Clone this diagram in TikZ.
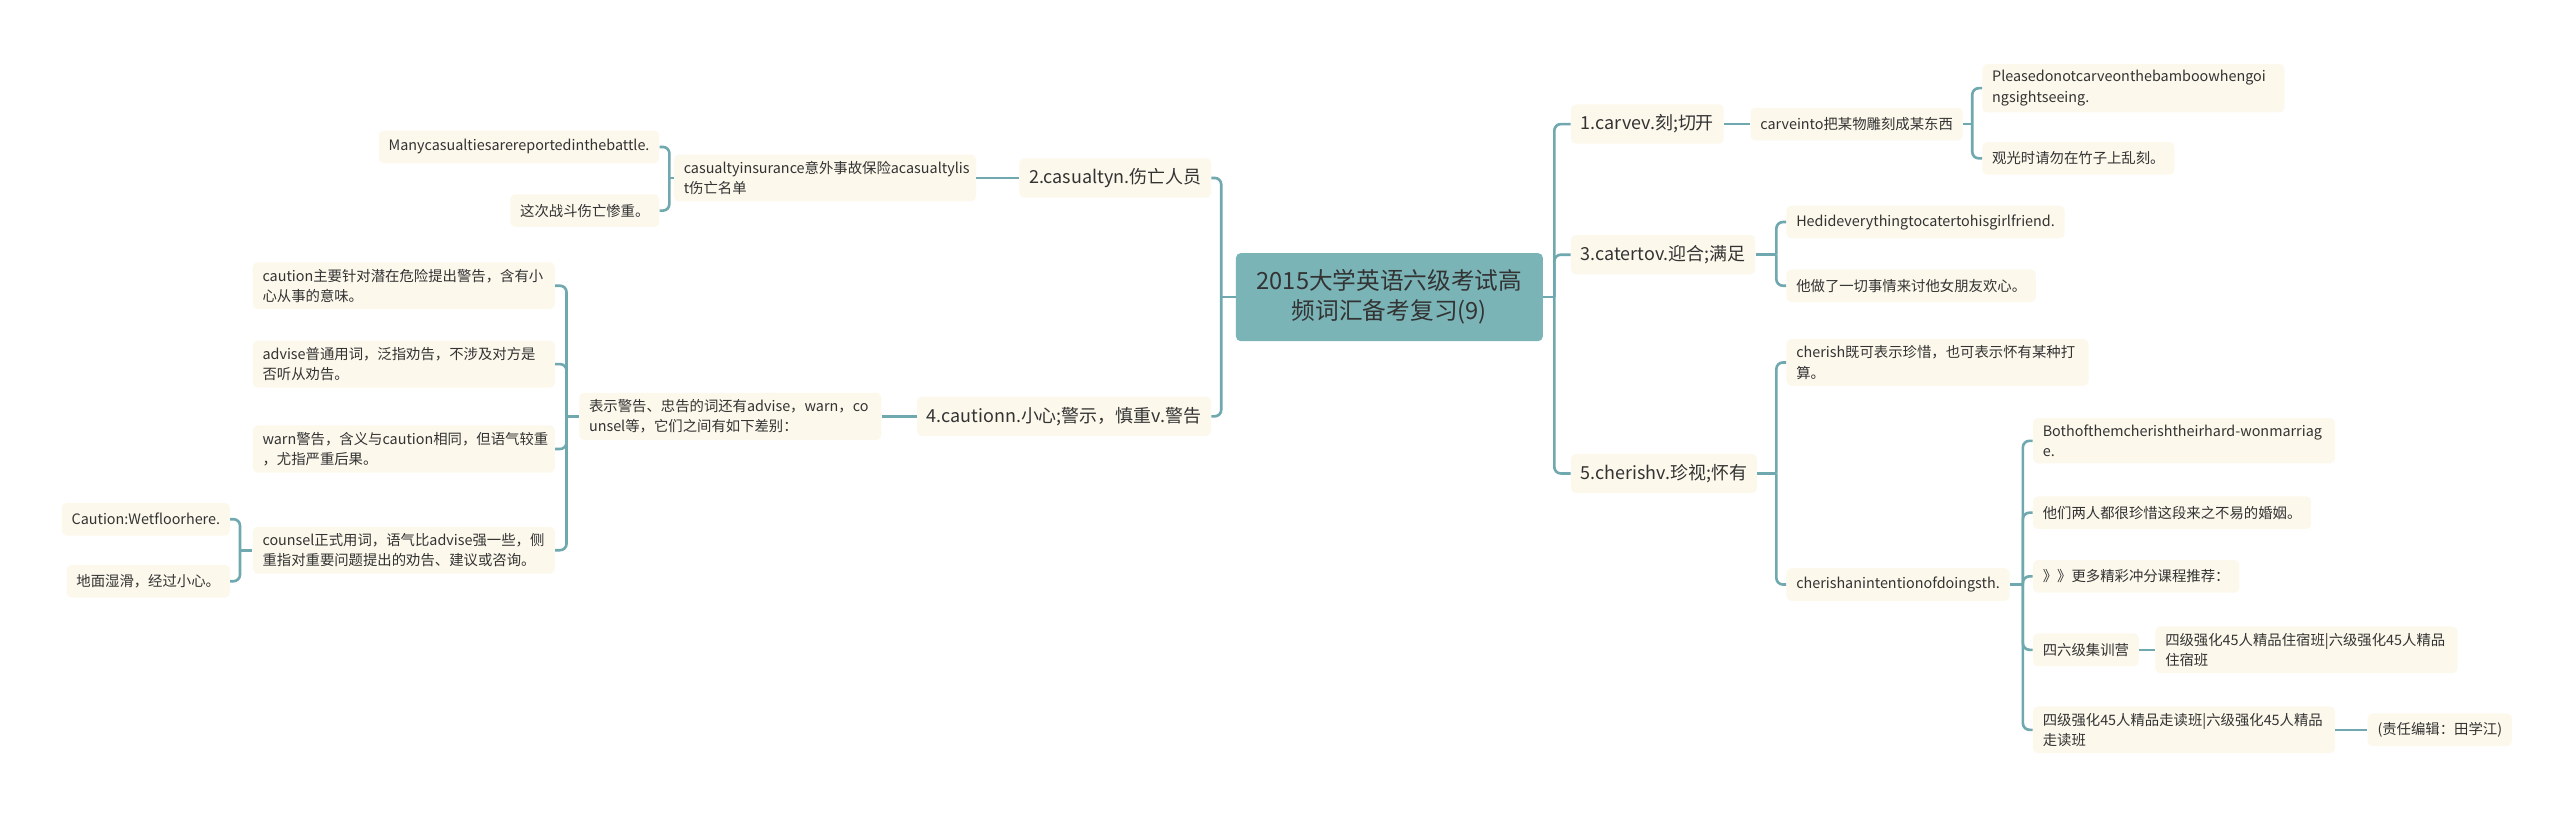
\documentclass[tikz,border=0pt]{standalone}
\usepackage{fontspec}
\setmainfont{Noto Sans CJK SC}
\definecolor{linkteal}{HTML}{6FA8AE}
\definecolor{rootfill}{HTML}{7BB4B7}
\definecolor{boxfill}{HTML}{FCF8EC}
\definecolor{inktext}{HTML}{333333}
\tikzset{
  box_base/.style = {inner xsep=6pt, rounded corners=3pt, text=inktext},
  box_root/.style = {box_base, fill=rootfill, align=center, minimum width=188pt, minimum height=54pt, font=\fontsize{14.5}{18.5}\selectfont},
  box_main/.style = {box_base, fill=boxfill, inner ysep=4pt, minimum height=24pt, font=\fontsize{11}{14}\selectfont},
  box_sub/.style = {box_base, fill=boxfill, inner ysep=4pt, minimum height=20pt, align=left, font=\fontsize{8.8}{12.5}\selectfont},
  box_wrap/.style = {box_sub, text width=173pt},
  link/.style = {draw=linkteal, line width=1.6pt, rounded corners=4pt},
}

\begin{document}
\begin{tikzpicture}[x=1pt, y=-1pt]
  \fill[white] (0,0) rectangle (1568,501);
  \useasboundingbox (0,0) rectangle (1568,501);

  \node[box_root] (root) at (851,182) {2015大学英语六级考试高\\频词汇备考复习(9)};

  \node[box_main, anchor=east] (cas) at (742,109) {2.casualtyn.伤亡人员};
  \node[box_wrap, anchor=east] (casins) at (598,109) {casualtyinsurance意外事故保险acasualtylis\\t伤亡名单};
  \node[box_sub, anchor=east] (casA) at (404,90) {Manycasualtiesarereportedinthebattle.};
  \node[box_sub, anchor=east] (casB) at (404,129) {这次战斗伤亡惨重。};

  \node[box_main, anchor=east] (cau) at (742,255) {4.cautionn.小心;警示，慎重v.警告};
  \node[box_wrap, anchor=east] (caudiff) at (540,255) {表示警告、忠告的词还有advise，warn，co\\unsel等，它们之间有如下差别：};
  \node[box_wrap, anchor=east] (cauA) at (340,175) {caution主要针对潜在危险提出警告，含有小\\心从事的意味。};
  \node[box_wrap, anchor=east] (cauB) at (340,223) {advise普通用词，泛指劝告，不涉及对方是\\否听从劝告。};
  \node[box_wrap, anchor=east] (cauC) at (340,275) {warn警告，含义与caution相同，但语气较重\\，尤指严重后果。};
  \node[box_wrap, anchor=east] (cauD) at (340,337) {counsel正式用词，语气比advise强一些，侧\\重指对重要问题提出的劝告、建议或咨询。};
  \node[box_sub, anchor=east] (cauD1) at (141,318) {Caution:Wetfloorhere.};
  \node[box_sub, anchor=east] (cauD2) at (141,356) {地面湿滑，经过小心。};

  \node[box_main, anchor=west] (carve) at (962,76) {1.carvev.刻;切开};
  \node[box_sub, anchor=west] (carveinto) at (1072,76) {carveinto把某物雕刻成某东西};
  \node[box_wrap, anchor=west] (carveA) at (1214,54) {Pleasedonotcarveonthebamboowhengoi\\ngsightseeing.};
  \node[box_sub, anchor=west] (carveB) at (1214,97) {观光时请勿在竹子上乱刻。};

  \node[box_main, anchor=west] (cater) at (962,156) {3.catertov.迎合;满足};
  \node[box_sub, anchor=west] (caterA) at (1094,136) {Hedideverythingtocatertohisgirlfriend.};
  \node[box_sub, anchor=west] (caterB) at (1094,175) {他做了一切事情来讨他女朋友欢心。};

  \node[box_main, anchor=west] (cherish) at (962,290) {5.cherishv.珍视;怀有};
  \node[box_wrap, anchor=west] (cherA) at (1094,222) {cherish既可表示珍惜，也可表示怀有某种打\\算。};
  \node[box_sub, anchor=west] (cherB) at (1094,358) {cherishanintentionofdoingsth.};
  \node[box_wrap, anchor=west] (cherB1) at (1245,270) {Bothofthemcherishtheirhard-wonmarriag\\e.};
  \node[box_sub, anchor=west] (cherB2) at (1245,314) {他们两人都很珍惜这段来之不易的婚姻。};
  \node[box_sub, anchor=west] (cherB3) at (1245,353) {》》更多精彩冲分课程推荐：};
  \node[box_sub, anchor=west] (cherB4) at (1245,398) {四六级集训营};
  \node[box_wrap, anchor=west] (cherB5) at (1245,447) {四级强化45人精品走读班|六级强化45人精品\\走读班};
  \node[box_wrap, anchor=west] (camp) at (1320,398) {四级强化45人精品住宿班|六级强化45人精品\\住宿班};
  \node[box_sub, anchor=west] (editor) at (1450,447) {(责任编辑：田学江)};

  \draw[link] (root.west) -- (748,182) coordinate (lt);
  \draw[link] (lt) |- (cas.east);
  \draw[link] (lt) |- (cau.east);
  \draw[link] (root.east) -- (952,182) coordinate (rt);
  \draw[link] (rt) |- (carve.west);
  \draw[link] (rt) |- (cater.west);
  \draw[link] (rt) |- (cherish.west);

  \draw[link] (cas) -- (casins);
  \draw[link] (casins.west) -- (410,109) coordinate (casb);
  \draw[link] (casb) |- (casA.east);
  \draw[link] (casb) |- (casB.east);

  \draw[link] (cau) -- (caudiff);
  \draw[link] (caudiff.west) -- (347,255) coordinate (caub);
  \draw[link] (caub) |- (cauA.east);
  \draw[link] (caub) |- (cauB.east);
  \draw[link] (caub) |- (cauC.east);
  \draw[link] (caub) |- (cauD.east);
  \draw[link] (cauD.west) -- (147,337) coordinate (caudb);
  \draw[link] (caudb) |- (cauD1.east);
  \draw[link] (caudb) |- (cauD2.east);

  \draw[link] (carve) -- (carveinto);
  \draw[link] (carveinto.east) -- (1208,76) coordinate (carveb);
  \draw[link] (carveb) |- (carveA.west);
  \draw[link] (carveb) |- (carveB.west);

  \draw[link] (cater.east) -- (1088,156) coordinate (caterb);
  \draw[link] (caterb) |- (caterA.west);
  \draw[link] (caterb) |- (caterB.west);

  \draw[link] (cherish.east) -- (1088,290) coordinate (cherb);
  \draw[link] (cherb) |- (cherA.west);
  \draw[link] (cherb) |- (cherB.west);
  \draw[link] (cherB.east) -- (1239,358) coordinate (cherbb);
  \draw[link] (cherbb) |- (cherB1.west);
  \draw[link] (cherbb) |- (cherB2.west);
  \draw[link] (cherbb) |- (cherB3.west);
  \draw[link] (cherbb) |- (cherB4.west);
  \draw[link] (cherbb) |- (cherB5.west);
  \draw[link] (cherB4) -- (camp);
  \draw[link] (cherB5) -- (editor);
\end{tikzpicture}
\end{document}
